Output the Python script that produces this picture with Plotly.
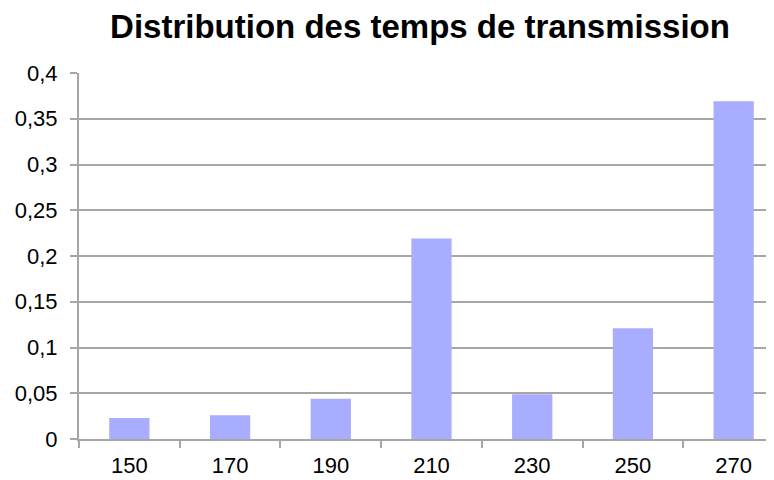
from plotly import graph_objects as go

temps = ["150", "170", "190", "210", "230", "250", "270"]
frequences = [0.023, 0.026, 0.044, 0.219, 0.049, 0.121, 0.369]

grid_color = "#A6A6A6"

fig = go.Figure()
fig.add_trace(go.Bar(x=temps, y=frequences, width=0.4,
                     marker=dict(color="#A9ADFF", line=dict(width=0))))

# the page body has an 8px margin, so the figure is drawn a bit wider than the window
fig.update_layout(
    width=776, height=480,
    margin=dict(l=71, r=0, t=65, b=49),
    paper_bgcolor="white", plot_bgcolor="white",
    separators=", ",
    font=dict(family="Liberation Sans, Arial, sans-serif", size=22, color="black"),
    title=dict(text="<b>Distribution des temps de transmission</b>",
               x=412 / 776, xanchor="center", y=0.9625, yanchor="middle",
               font=dict(size=33)),
    showlegend=False,
)
fig.update_xaxes(type="category", range=[-0.5, 6.5],
                 showline=True, linecolor=grid_color, linewidth=2,
                 ticks="outside", tickson="boundaries", ticklen=7, tickwidth=2,
                 tickcolor=grid_color, ticklabelstandoff=6, showgrid=False)
fig.update_yaxes(range=[0, 0.4], dtick=0.05, tick0=0,
                 showline=True, linecolor=grid_color, linewidth=2,
                 ticks="outside", ticklen=7, tickwidth=2, tickcolor=grid_color,
                 ticklabelstandoff=8,
                 showgrid=True, gridcolor=grid_color, gridwidth=2,
                 zeroline=False)

fig.write_html("out.html")
